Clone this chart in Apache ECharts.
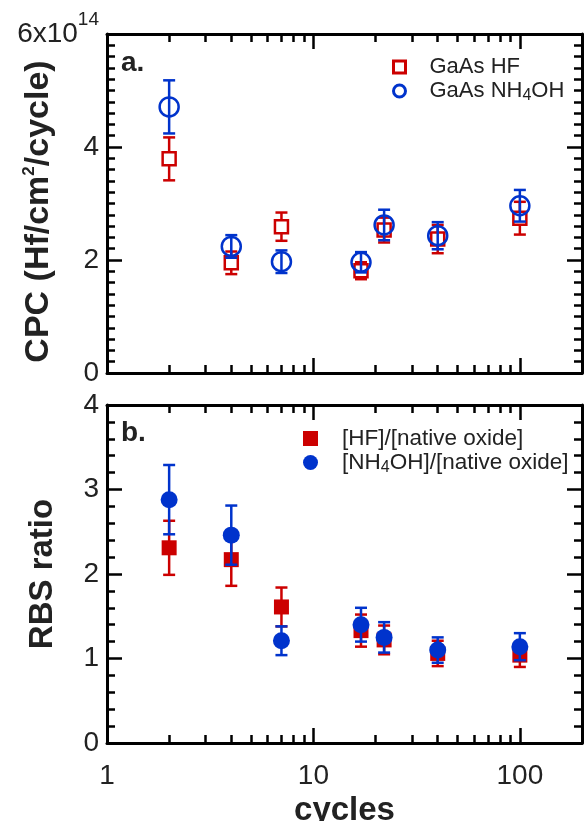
<!DOCTYPE html>
<html>
<head>
<meta charset="utf-8">
<script src="https://cdn.jsdelivr.net/npm/echarts@6/dist/echarts.min.js"></script>
<style>
  html, body { margin: 0; padding: 0; background: #fff; }
  #chart { width: 584px; height: 821px; }
</style>
</head>
<body>
<div id="chart"></div>
<script>
// ALD cycles (shared x axis, log scale)
const cycles = [2, 4, 7, 17, 22, 40, 100];

// Panel a: growth per cycle, Hf atoms / cm^2 / cycle
const cpcHF      = [3.79e14, 1.95e14, 2.59e14, 1.81e14, 2.53e14, 2.37e14, 2.74e14];
const cpcHFErr   = [0.38e14, 0.20e14, 0.25e14, 0.15e14, 0.22e14, 0.25e14, 0.29e14];
const cpcNH      = [4.71e14, 2.24e14, 1.97e14, 1.96e14, 2.62e14, 2.43e14, 2.96e14];
const cpcNHErr   = [0.47e14, 0.20e14, 0.20e14, 0.18e14, 0.27e14, 0.24e14, 0.28e14];

// Panel b: RBS coverage ratio relative to native-oxide surface
const ratioHF    = [2.31, 2.17, 1.61, 1.33, 1.22, 1.06, 1.04];
const ratioHFErr = [0.32, 0.31, 0.23, 0.19, 0.17, 0.15, 0.14];
const ratioNH    = [2.88, 2.46, 1.21, 1.40, 1.25, 1.10, 1.14];
const ratioNHErr = [0.41, 0.35, 0.17, 0.20, 0.18, 0.15, 0.16];

// x-axis range and ticks (cycles)
const xMin = 1, xMax = 200;
const xMajorTicks = [1, 10, 100];
const xMinorTicks = [2, 3, 4, 5, 6, 7, 8, 9, 20, 30, 40, 50, 60, 70, 80, 90];

const RED = '#cc0000';
const BLUE = '#0033cc';
const INK = '#222';
const FONT = '"Liberation Sans", Arial, sans-serif';

const chart = echarts.init(document.getElementById('chart'), null, { renderer: 'canvas' });

function points(ys) { return cycles.map((c, i) => [c, ys[i]]); }
function withErr(ys, es) { return cycles.map((c, i) => [c, ys[i], es[i]]); }

const AXIS_LINE = { color: '#000', width: 3 };
const TICK_LINE = { color: '#000', width: 2.5 };

// Data-carrying log axis of a panel
function logAxis(grid, extra) {
  return Object.assign({
    type: 'log', logBase: 10, gridIndex: grid, position: 'bottom', min: xMin, max: xMax,
    axisLine: { show: true, onZero: false, lineStyle: AXIS_LINE },
    axisTick: { show: false },
    axisLabel: { show: false },
    splitLine: { show: false },
    minorTick: { show: false }
  }, extra || {});
}

// Tick-only axis in log10 space, so the decade/sub-decade ticks land where the log axis puts those values
function tickAxis(grid, position, ticks, len, showLine) {
  return {
    type: 'value', gridIndex: grid, position: position,
    min: Math.log10(xMin), max: Math.log10(xMax),
    axisLine: { show: !!showLine, onZero: false, lineStyle: AXIS_LINE },
    axisTick: { show: true, inside: true, length: len, customValues: ticks.map(Math.log10),
                lineStyle: TICK_LINE },
    axisLabel: { show: false },
    splitLine: { show: false },
    minorTick: { show: false }
  };
}

function yAxisCfg(grid, position, max, interval, minorSplit, extra) {
  return Object.assign({
    type: 'value', gridIndex: grid, position: position, min: 0, max: max, interval: interval,
    axisLine: { show: true, onZero: false, lineStyle: AXIS_LINE },
    axisTick: { show: true, inside: true, length: 15, lineStyle: TICK_LINE },
    minorTick: { show: true, splitNumber: minorSplit, length: 8, lineStyle: TICK_LINE },
    axisLabel: { show: false },
    splitLine: { show: false },
    minorSplitLine: { show: false }
  }, extra || {});
}

function errorBars(color) {
  return function (params, api) {
    const x = api.value(0), y = api.value(1), e = api.value(2);
    const lo = api.coord([x, y - e]);
    const hi = api.coord([x, y + e]);
    const w = 6;
    const style = { stroke: color, lineWidth: 2.5 };
    return {
      type: 'group',
      children: [
        { type: 'line', shape: { x1: lo[0], y1: lo[1], x2: hi[0], y2: hi[1] }, style: style },
        { type: 'line', shape: { x1: lo[0] - w, y1: lo[1], x2: lo[0] + w, y2: lo[1] }, style: style },
        { type: 'line', shape: { x1: hi[0] - w, y1: hi[1], x2: hi[0] + w, y2: hi[1] }, style: style }
      ]
    };
  };
}

const axisNameStyle = {
  fontSize: 34, fontWeight: 'bold', color: INK, fontFamily: FONT, padding: [0, 16, 0, 0],
  rich: {
    t: { fontSize: 34, fontWeight: 'bold', color: INK, fontFamily: FONT, lineHeight: 36 },
    s: { fontSize: 17, fontWeight: 'bold', color: INK, fontFamily: FONT, lineHeight: 30, verticalAlign: 'top' }
  }
};

const legendNames = {
  'GaAs HF': '{n|GaAs HF}',
  'GaAs NH4OH': '{n|GaAs NH}{sub|4}{n|OH}',
  '[HF]/[native oxide]': '{n|[HF]/[native oxide]}',
  '[NH4OH]/[native oxide]': '{n|[NH}{sub|4}{n|OH]/[native oxide]}'
};

function legendText(size) {
  return {
    fontSize: size, color: INK, fontFamily: FONT, padding: [0, 0, 0, 19],
    rich: {
      n: { fontSize: size, color: INK, fontFamily: FONT, lineHeight: 26 },
      sub: { fontSize: 16, color: INK, fontFamily: FONT, lineHeight: 14, verticalAlign: 'bottom' }
    }
  };
}

const option = {
  backgroundColor: '#fff',
  animation: false,
  textStyle: { fontFamily: FONT },
  title: [
    { text: 'a.', left: 121, top: 49, padding: 0,
      textStyle: { fontSize: 28, fontWeight: 'bold', color: INK, fontFamily: FONT } },
    { text: 'b.', left: 121, top: 419, padding: 0,
      textStyle: { fontSize: 28, fontWeight: 'bold', color: INK, fontFamily: FONT } }
  ],
  legend: [
    {
      orient: 'vertical', left: 392, top: 56, padding: 0, itemGap: 2,
      itemWidth: 12, itemHeight: 12, selectedMode: false,
      formatter: name => legendNames[name],
      textStyle: legendText(22),
      data: [
        { name: 'GaAs HF', icon: 'rect', itemStyle: { color: '#fff', borderColor: RED, borderWidth: 3 } },
        { name: 'GaAs NH4OH', icon: 'circle', itemStyle: { color: '#fff', borderColor: BLUE, borderWidth: 3 } }
      ]
    },
    {
      orient: 'vertical', left: 303, top: 427, padding: 0, itemGap: 1,
      itemWidth: 15, itemHeight: 15, selectedMode: false,
      formatter: name => legendNames[name],
      textStyle: legendText(22.5),
      data: [
        { name: '[HF]/[native oxide]', icon: 'rect', itemStyle: { color: RED, borderWidth: 0 } },
        { name: '[NH4OH]/[native oxide]', icon: 'circle', itemStyle: { color: BLUE, borderWidth: 0 } }
      ]
    }
  ],
  grid: [
    { left: 107, right: 2, top: 34, height: 339, containLabel: false, outerBoundsMode: 'none' },
    { left: 107, right: 2, top: 405, height: 338, containLabel: false, outerBoundsMode: 'none' }
  ],
  xAxis: [
    // panel a
    logAxis(0),
    tickAxis(0, 'bottom', xMajorTicks, 15, false),
    tickAxis(0, 'bottom', xMinorTicks, 8, false),
    tickAxis(0, 'top', xMajorTicks, 15, true),
    tickAxis(0, 'top', xMinorTicks, 8, false),
    // panel b
    logAxis(1, {
      axisLabel: { show: true, customValues: xMajorTicks, margin: 19, fontSize: 28,
                   color: INK, fontFamily: FONT },
      name: 'cycles', nameLocation: 'middle', nameGap: 51, nameMoveOverlap: false,
      nameTextStyle: { fontSize: 33, fontWeight: 'bold', color: INK, fontFamily: FONT }
    }),
    tickAxis(1, 'bottom', xMajorTicks, 15, false),
    tickAxis(1, 'bottom', xMinorTicks, 8, false),
    tickAxis(1, 'top', xMajorTicks, 15, true),
    tickAxis(1, 'top', xMinorTicks, 8, false)
  ],
  yAxis: [
    yAxisCfg(0, 'left', 6e14, 2e14, 10, {
      axisLabel: {
        show: true, margin: 8, color: INK, fontFamily: FONT,
        formatter: v => {
          const m = Math.round(v / 1e14);
          return m === 6 ? '{m|6x10}{s|14}' : '{m|' + m + '}';
        },
        rich: {
          m: { fontSize: 28, color: INK, fontFamily: FONT, lineHeight: 48 },
          s: { fontSize: 19, color: INK, fontFamily: FONT, lineHeight: 20, verticalAlign: 'top' }
        }
      },
      name: '{t|CPC (Hf/cm}{s|2}{t|/cycle)}', nameLocation: 'middle', nameGap: 50,
      nameMoveOverlap: false,
      nameTextStyle: axisNameStyle
    }),
    yAxisCfg(0, 'right', 6e14, 2e14, 10),
    yAxisCfg(1, 'left', 4, 1, 5, {
      axisLabel: { show: true, margin: 8, fontSize: 28, color: INK, fontFamily: FONT },
      name: 'RBS ratio', nameLocation: 'middle', nameGap: 48, nameMoveOverlap: false,
      nameTextStyle: { fontSize: 33, fontWeight: 'bold', color: INK, fontFamily: FONT }
    }),
    yAxisCfg(1, 'right', 4, 1, 5)
  ],
  series: [
    // panel a
    { type: 'custom', name: 'GaAs HF', xAxisIndex: 0, yAxisIndex: 0,
      renderItem: errorBars(RED), encode: { x: 0, y: 1 }, data: withErr(cpcHF, cpcHFErr), z: 2 },
    { type: 'scatter', name: 'GaAs HF', xAxisIndex: 0, yAxisIndex: 0,
      symbol: 'rect', symbolSize: 13, data: points(cpcHF), z: 3,
      itemStyle: { color: '#fff', borderColor: RED, borderWidth: 2.5, opacity: 1 } },
    { type: 'custom', name: 'GaAs NH4OH', xAxisIndex: 0, yAxisIndex: 0,
      renderItem: errorBars(BLUE), encode: { x: 0, y: 1 }, data: withErr(cpcNH, cpcNHErr), z: 4 },
    { type: 'scatter', name: 'GaAs NH4OH', xAxisIndex: 0, yAxisIndex: 0,
      symbol: 'circle', symbolSize: 19, data: points(cpcNH), z: 5,
      itemStyle: { color: 'rgba(255,255,255,0)', borderColor: BLUE, borderWidth: 2.5, opacity: 1 } },
    // panel b
    { type: 'custom', name: '[HF]/[native oxide]', xAxisIndex: 5, yAxisIndex: 2,
      renderItem: errorBars(RED), encode: { x: 0, y: 1 }, data: withErr(ratioHF, ratioHFErr), z: 2 },
    { type: 'scatter', name: '[HF]/[native oxide]', xAxisIndex: 5, yAxisIndex: 2,
      symbol: 'rect', symbolSize: 15, data: points(ratioHF), z: 3,
      itemStyle: { color: RED, opacity: 1 } },
    { type: 'custom', name: '[NH4OH]/[native oxide]', xAxisIndex: 5, yAxisIndex: 2,
      renderItem: errorBars(BLUE), encode: { x: 0, y: 1 }, data: withErr(ratioNH, ratioNHErr), z: 4 },
    { type: 'scatter', name: '[NH4OH]/[native oxide]', xAxisIndex: 5, yAxisIndex: 2,
      symbol: 'circle', symbolSize: 17, data: points(ratioNH), z: 5,
      itemStyle: { color: BLUE, opacity: 1 } }
  ]
};

chart.setOption(option);
</script>
</body>
</html>
